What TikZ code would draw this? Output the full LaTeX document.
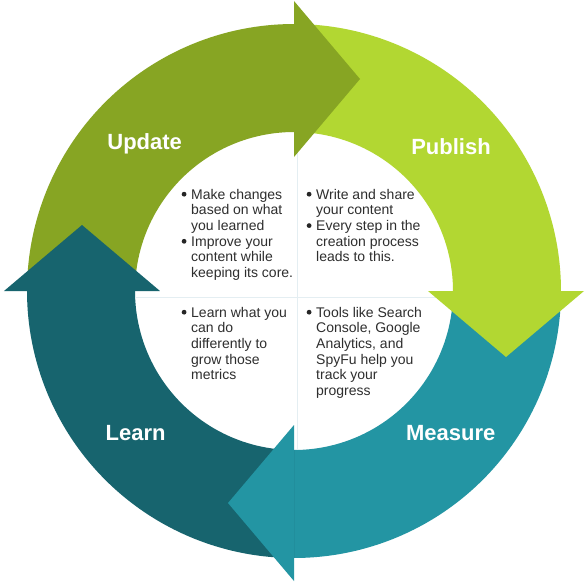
\documentclass[tikz,border=0pt]{standalone}
\usepackage{fontspec}
\setmainfont{Liberation Sans}
\usetikzlibrary{calc}
\definecolor{cUpdate}{HTML}{87A523}
\definecolor{cPublish}{HTML}{B2D732}
\definecolor{cMeasure}{HTML}{2395A3}
\definecolor{cLearn}{HTML}{17646E}
\definecolor{textgray}{HTML}{2E2E2E}
\definecolor{divline}{HTML}{E4EEF2}
\newcommand\bul{\makebox[10pt][l]{\hspace{0.5pt}\tikz[baseline=-5pt]\fill[black!85] (0,0) circle[radius=2.4pt];}}
\newcommand\ind{\hspace*{10pt}}
\tikzset{
  txt/.style={anchor=north west, inner sep=0pt, align=left,
    font=\fontsize{14}{15.7}\selectfont, text=textgray},
  lab/.style={anchor=base, inner sep=0pt,
    font=\fontsize{22}{26}\selectfont\bfseries, text=white}
}
\begin{document}
\begin{tikzpicture}[x=1pt,y=1pt]
\useasboundingbox (-294,-293) rectangle (294,291);
\fill[white] (-294,-293) rectangle (294,291);
% ring bodies
\foreach \b/\c in {90/cUpdate,0/cPublish,-90/cMeasure,180/cLearn}{
  \pgfmathsetmacro\bs{\b+90}
  \pgfmathsetmacro\be{\b-0.6}
  \fill[\c] (\bs:159pt) arc[start angle=\bs, end angle=\be, radius=159pt]
    -- (\be:267pt) arc[start angle=\be, end angle=\bs, radius=267pt] -- cycle;
}
% faint dividers in the inner circle
\begin{scope}
  \clip (0,0) circle[radius=158.5pt];
  \draw[divline, line width=1pt] (3,-170) -- (3,170);
  \draw[divline, line width=1pt] (-170,-6) -- (170,-6);
\end{scope}
% arrow heads
\foreach \b/\c in {90/cUpdate,0/cPublish,-90/cMeasure,180/cLearn}{
  \pgfmathsetmacro\bt{\b-90}
  \fill[\c] (\b:134pt) -- ($(\b:212pt)+(\bt:66pt)$) -- (\b:290pt) -- cycle;
}
% labels
\node[lab] (lUpdate) at (-149.3,141.7) {Update};
\node[lab] (lPublish) at (157,136.8) {Publish};
\node[lab] (lLearn) at (-158.4,-149) {Learn};
\node[lab] (lMeasure) at (156.7,-149) {Measure};
% texts
\node[txt] (tUpdate) at (-113,103) {\strut\bul Make changes\\\ind based on what\\\ind you learned\\\bul Improve your\\\ind content while\\\ind keeping its core.};
\node[txt] (tPublish) at (12,103) {\strut\bul Write and share\\\ind your content\\\bul Every step in the\\\ind creation process\\\ind leads to this.};
\node[txt] (tLearn) at (-113,-15) {\strut\bul Learn what you\\\ind can do\\\ind differently to\\\ind grow those\\\ind metrics};
\node[txt] (tMeasure) at (12,-15) {\strut\bul Tools like Search\\\ind Console, Google\\\ind Analytics, and\\\ind SpyFu help you\\\ind track your\\\ind progress};
\end{tikzpicture}
\end{document}
